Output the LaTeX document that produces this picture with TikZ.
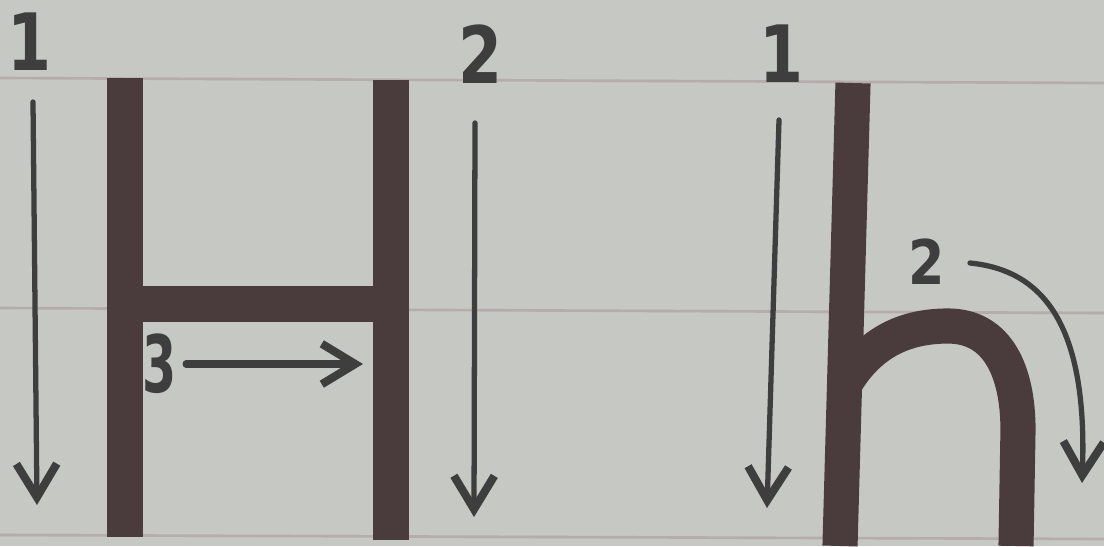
\documentclass[tikz,border=0pt]{standalone}
\usepackage{fontspec}
\setmainfont{DejaVu Sans}
\usetikzlibrary{arrows.meta}
\begin{document}
\begin{tikzpicture}[x=0.2mm,y=-0.2mm,
  penstroke/.style={color2,line width=20pt},
  guide/.style={color3,line width=3pt,line cap=round,-{Straight Barb[length=19pt,width=23pt,line width=4.6pt]}},
  num/.style={color3,inner sep=0pt,font=\fontsize{45}{45}\selectfont\bfseries}]
\definecolor{color1}{HTML}{C6C8C4}
\definecolor{color2}{HTML}{4A3B3C}
\definecolor{color3}{HTML}{3E3E3E}
\definecolor{color4}{HTML}{B6ACA9}
\clip (0,0) rectangle (1104,546);
\fill[color1] (0,0) rectangle (1104,546);
% ruled lines
\draw[color4,line width=1.5pt] (0,78) -- (1104,83);
\draw[color4,line width=1.5pt] (0,308) -- (1104,313);
\draw[color4,line width=1.5pt] (0,535) -- (1104,539);
% capital H
\draw[penstroke] (125,78) -- (125,537);
\draw[penstroke] (391,80) -- (391,540);
\draw[penstroke] (142,304) -- (374,304);
% small h
\draw[penstroke] (846,382) .. controls (874,336) and (914,326) .. (948,326) .. controls (998,326) and (1018,372) .. (1018,430) -- (1016,546);
\draw[penstroke] (853,83) -- (840,546);
% numbers
\node[num] (n1) at (30,42) {\scalebox{0.8}[1]{1}};
\node[num] (n2) at (481,54) {\scalebox{0.8}[1]{2}};
\node[num] (n3) at (160,364) {\scalebox{0.62}[1]{3}};
\node[num] (m1) at (782,54) {\scalebox{0.8}[1]{1}};
\node[num,font=\fontsize{35}{35}\selectfont\bfseries] (m2) at (927,262) {\scalebox{0.85}[1]{2}};
% stroke order arrows
\coordinate (a1) at (33,102);
\coordinate (b1) at (37,505);
\coordinate (a2) at (475,123);
\coordinate (b2) at (474,517);
\coordinate (c3) at (363,364);
\coordinate (d1) at (779,120);
\coordinate (e1) at (767,508);
\coordinate (d2) at (970,263);
\coordinate (e2) at (1082,483);
\draw[guide] (a1) -- (b1);
\draw[guide] (a2) -- (b2);
\draw[guide,line width=4.2pt,shorten <=5pt] (n3) -- (c3);
\draw[guide] (d1) -- (e1);
\draw[guide] (d2) .. controls (1040,270) and (1088,320) .. (e2);
\end{tikzpicture}
\end{document}
